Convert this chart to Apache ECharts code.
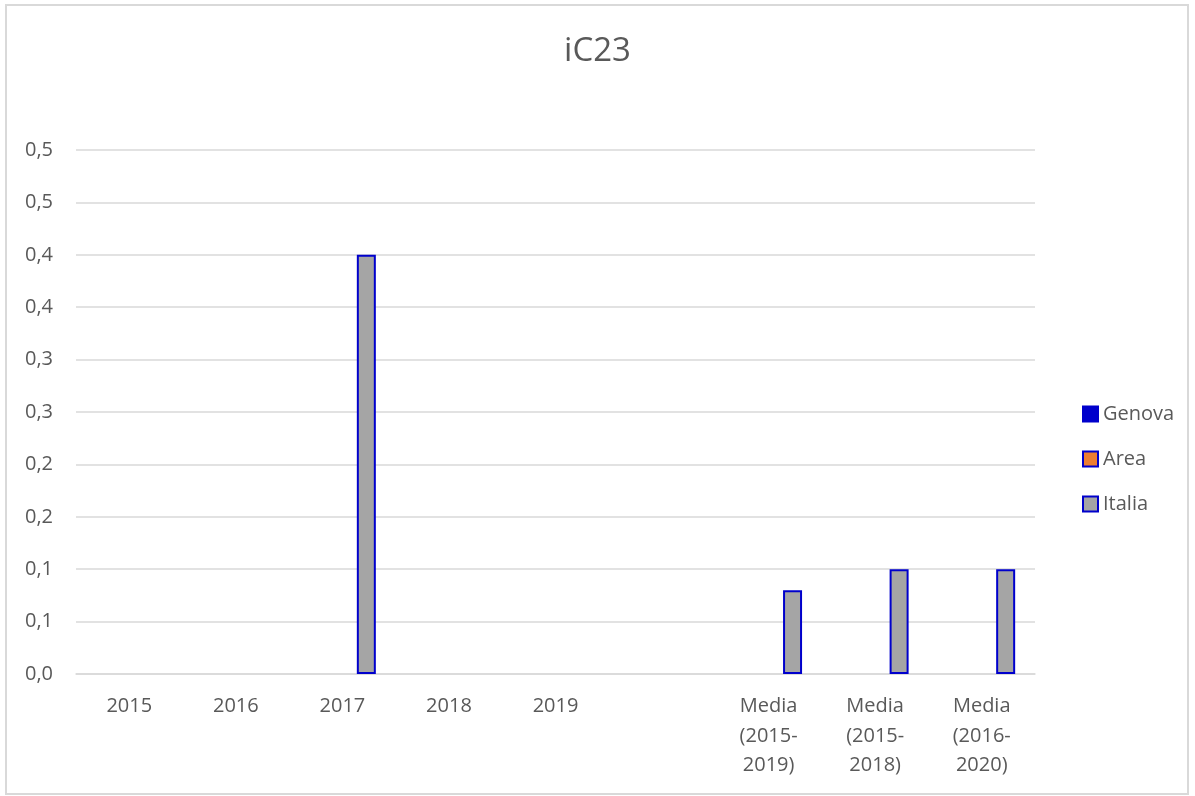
<!DOCTYPE html>
<html>
<head>
<meta charset="utf-8">
<title>iC23</title>
<script src="https://cdn.jsdelivr.net/npm/echarts@6/dist/echarts.min.js"></script>
<style>
  html, body { margin: 0; padding: 0; background: #fff; }
  #chart { width: 1195px; height: 796px; }
</style>
</head>
<body>
<div id="chart"></div>
<script>
// dati del grafico
var categories = ['2015', '2016', '2017', '2018', '2019', '',
  'Media\n(2015-\n2019)', 'Media\n(2015-\n2018)', 'Media\n(2016-\n2020)'];
var genova = [null, null, null, null, null, null, null, null, null];
var area   = [null, null, null, null, null, null, null, null, null];
var italia = [null, null, 0.4, null, null, null, 0.08, 0.1, 0.1];

var yMin = 0, yMax = 0.5, yStep = 0.05;

var blu = '#0000CC';
var txt = '#595959';
var font = '"Open Sans", "Noto Sans", sans-serif';

// etichette come in Excel: una cifra decimale, virgola
function fmt(v) {
	var r = Math.round(v * 10 + 1e-6) / 10;
	return r.toFixed(1).replace('.', ',');
}

var chart = echarts.init(document.getElementById('chart'));

chart.setOption({
	backgroundColor: '#fff',
	textStyle: { fontFamily: font },
	graphic: [{
		type: 'rect',
		shape: { x: 6, y: 5, width: 1182, height: 789 },
		style: { fill: 'none', stroke: '#d9d9d9', lineWidth: 2 },
		silent: true
	}],
	title: {
		text: 'iC23',
		left: 'center',
		top: 30,
		textStyle: { fontFamily: font, fontSize: 33, fontWeight: 'normal', color: txt }
	},
	legend: {
		orient: 'vertical',
		left: 1077,
		top: 399,
		itemWidth: 15,
		itemHeight: 15,
		itemGap: 25,
		icon: 'rect',
		textStyle: { fontFamily: font, fontSize: 20, color: txt },
		data: ['Genova', 'Area', 'Italia']
	},
	grid: { left: 76, right: 160, top: 150, bottom: 122, containLabel: false },
	xAxis: {
		type: 'category',
		data: categories,
		axisTick: { show: false },
		axisLine: { lineStyle: { color: '#d9d9d9', width: 1.5 } },
		axisLabel: {
			interval: 0,
			margin: 18,
			fontFamily: font,
			fontSize: 20,
			lineHeight: 29.5,
			color: txt
		}
	},
	yAxis: {
		type: 'value',
		min: yMin,
		max: yMax,
		interval: yStep,
		axisLine: { show: false },
		axisTick: { show: false },
		splitLine: { lineStyle: { color: '#d9d9d9', width: 1.5 } },
		axisLabel: {
			margin: 23,
			fontFamily: font,
			fontSize: 20,
			color: txt,
			formatter: fmt
		}
	},
	series: [
		{
			name: 'Genova',
			type: 'bar',
			data: genova,
			barWidth: 19,
			barGap: '26%',
			itemStyle: { color: blu, borderColor: blu, borderWidth: 2 }
		},
		{
			name: 'Area',
			type: 'bar',
			data: area,
			barWidth: 19,
			barGap: '26%',
			itemStyle: { color: '#ED7D31', borderColor: blu, borderWidth: 2 }
		},
		{
			name: 'Italia',
			type: 'bar',
			data: italia,
			barWidth: 19,
			barGap: '26%',
			itemStyle: { color: '#A5A5A5', borderColor: blu, borderWidth: 2 }
		}
	]
});
</script>
</body>
</html>
